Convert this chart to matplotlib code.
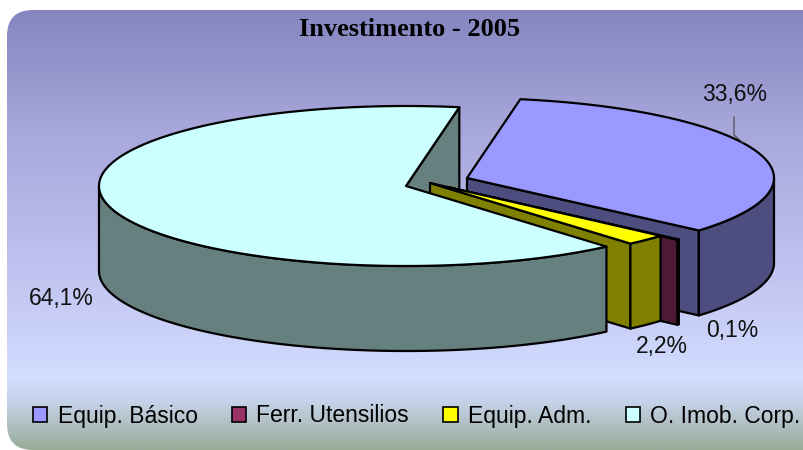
import numpy as np
import matplotlib
matplotlib.use('Agg')
import matplotlib.pyplot as plt
from matplotlib.colors import LinearSegmentedColormap
from matplotlib.patches import FancyBboxPatch, Patch, Polygon

# data
categories = ['Equip. Básico', 'Ferr. Utensilios', 'Equip. Adm.', 'O. Imob. Corp.']
values = [33.6, 0.1, 2.2, 64.1]

# styles, same order as categories
top_colors = ['#9999FF', '#993366', '#FFFF00', '#CCFFFF']
side_colors = ['#4D4D80', '#4D1A33', '#808000', '#668080']
apex_x = [467, 447, 430, 406]
apex_y = [178, 187, 183, 186]
label_x = [735, None, None, 61]
label_y = [95, None, None, 298]

RX = 307
RY = 80
DEPTH = 85
START = 80.0
LW = 1.6


def rim(i, t):
    t = np.radians(t)
    return np.column_stack([apex_x[i] + RX*np.cos(t), apex_y[i] - RY*np.sin(t)])


def down(pts):
    return pts + np.array([0, DEPTH])


def slice_poly(i, color, pts):
    ax.add_patch(Polygon(pts, closed=True, facecolor=color, edgecolor='black',
                         linewidth=LW, joinstyle='round'))


plt.rcParams['font.family'] = ['Liberation Sans', 'DejaVu Sans']
fig = plt.figure(figsize=(8.04, 4.5), dpi=100)
ax = fig.add_axes([0, 0, 1, 1])
ax.set_xlim(0, 804)
ax.set_ylim(450, 0)
ax.axis('off')

# background with round corners
cmap = LinearSegmentedColormap.from_list('bg', [(0, '#8585C0'), (0.25, '#A5A5DA'),
                                                (0.5, '#BABAEA'), (0.84, '#D2DDFF'),
                                                (0.89, '#C6D3EA'), (1, '#98AC98')])
grad = np.linspace(0, 1, 256).reshape(-1, 1)
img = ax.imshow(grad, cmap=cmap, extent=[7, 830, 450, 10], aspect='auto', zorder=0)
clip = FancyBboxPatch((7+26, 10+26), 823-52, 440-52, boxstyle='round,pad=26',
                      transform=ax.transData, facecolor='none', edgecolor='none')
ax.add_patch(clip)
img.set_clip_path(clip)
ax.set_xlim(0, 804)
ax.set_ylim(450, 0)

# angles clockwise from START
fracs = np.array(values) / np.sum(values) * 360
ends = START - np.cumsum(fracs)
starts = ends + fracs

# paint back to front: big slice back face, then basico, ferr, adm, big slice
i = 3
p = rim(i, np.array([starts[0]]))
slice_poly(i, side_colors[i], np.vstack([[[apex_x[i], apex_y[i]]], p, down(p),
                                         [[apex_x[i], apex_y[i] + DEPTH]]]))

for i in [0, 1, 2]:
    a = np.array([[apex_x[i], apex_y[i]]])
    t = np.linspace(starts[i], ends[i], 120)
    end_pt = rim(i, np.array([ends[i]]))
    # radial face that looks to the viewer
    slice_poly(i, side_colors[i], np.vstack([a, end_pt, down(end_pt), down(a)]))
    # outer wall, lower half only
    tw = t[t <= 0]
    if i != 0:
        tw = t
    if len(tw) > 1:
        w = rim(i, tw)
        slice_poly(i, side_colors[i], np.vstack([w, down(w)[::-1]]))
    slice_poly(i, top_colors[i], np.vstack([a, rim(i, t)]))

i = 3
t = np.linspace(starts[3], ends[3], 300)
tw = np.linspace(-180, ends[2], 200)
w = rim(i, tw)
slice_poly(i, side_colors[i], np.vstack([w, down(w)[::-1]]))
slice_poly(i, top_colors[i], np.vstack([[[apex_x[i], apex_y[i]]], rim(i, t)]))

# labels
txt = [('%.1f%%' % v).replace('.', ',') for v in values]
ax.text(label_x[0], label_y[0], txt[0], fontsize=16.5, ha='center', va='center', color='#111111')
ax.text(label_x[3], label_y[3], txt[3], fontsize=16.5, ha='center', va='center', color='#111111')
ax.text(732, 331, txt[1], fontsize=16.5, ha='center', va='center', color='#111111')
ax.text(662, 347, txt[2], fontsize=16.5, ha='center', va='center', color='#111111')
ax.plot([734, 734, 743], [117, 135, 143], color='#444444', lw=0.8)

ax.text(410, 29, 'Investimento - 2005', fontsize=19, fontweight='bold', family='Liberation Serif',
        ha='center', va='center', color='black')

handles = [Patch(facecolor=c, edgecolor='black', linewidth=1.2) for c in top_colors]
ax.legend(handles, categories, ncol=4, frameon=False, fontsize=16.5, loc='center left',
          bbox_to_anchor=(33/804, 1-416/450), bbox_transform=ax.transAxes, borderaxespad=0,
          borderpad=0, handlelength=0.62, handleheight=0.62, handletextpad=0.45,
          columnspacing=1.5)

fig.savefig('out.png', dpi=100, facecolor='white')
